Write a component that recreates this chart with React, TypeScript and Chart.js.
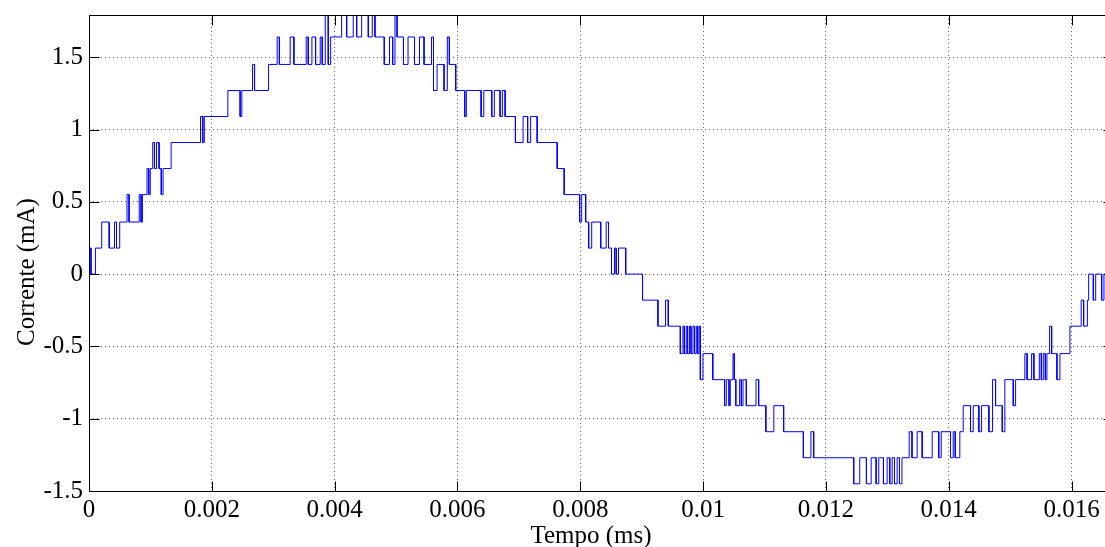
import React, { useEffect, useRef } from "react";
import { Chart, registerables } from "chart.js";

Chart.register(...registerables);

// Instants (s) where the quantised current changes, and the level it takes from then on (mA)
const stepTimes: number[] = [
  0, 0.0000114, 0.0000326, 0.0001043, 0.000207, 0.000329, 0.000416, 0.000448, 0.0005, 0.000619,
  0.000652, 0.000818, 0.000848, 0.00087, 0.000945, 0.000973, 0.000998, 0.001038, 0.001066, 0.001099,
  0.001141, 0.001177, 0.001206, 0.001337, 0.001816, 0.001853, 0.001878, 0.002261, 0.002461, 0.002489,
  0.002663, 0.002696, 0.002924, 0.003064, 0.0031, 0.003276, 0.003337, 0.003537, 0.00357, 0.00363,
  0.00369, 0.003765, 0.003798, 0.003847, 0.003896, 0.003935, 0.004114, 0.004196, 0.004303, 0.004359,
  0.00444, 0.004548, 0.004613, 0.004657, 0.004808, 0.004893, 0.004945, 0.004983, 0.005016, 0.005121,
  0.005195, 0.005301, 0.005382, 0.005456, 0.005578, 0.00561, 0.005668, 0.005782, 0.005835, 0.005868,
  0.005972, 0.006119, 0.006145, 0.006385, 0.006429, 0.006559, 0.006601, 0.006694, 0.006732, 0.006776,
  0.006944, 0.007069, 0.007143, 0.007192, 0.007298, 0.007624, 0.007738, 0.00799, 0.008023, 0.008088,
  0.008137, 0.008186, 0.008333, 0.008422, 0.00846, 0.008509, 0.008557, 0.008585, 0.008623, 0.00874,
  0.009014, 0.009265, 0.009389, 0.009433, 0.009629, 0.009672, 0.009694, 0.009726, 0.009748, 0.00978,
  0.009803, 0.009835, 0.009861, 0.009889, 0.009911, 0.009934, 0.009955, 0.009998, 0.010158, 0.01035,
  0.010378, 0.010422, 0.010443, 0.010487, 0.010508, 0.010533, 0.010595, 0.010623, 0.01065, 0.010704,
  0.010862, 0.010905, 0.011022, 0.011152, 0.011312, 0.011633, 0.011756, 0.011801, 0.012453, 0.012551,
  0.01266, 0.012737, 0.012818, 0.012861, 0.012937, 0.012997, 0.01304, 0.013079, 0.013117, 0.01316,
  0.013198, 0.013239, 0.013356, 0.013402, 0.013486, 0.013568, 0.013731, 0.013838, 0.013878, 0.014029,
  0.014073, 0.014106, 0.014181, 0.014236, 0.014355, 0.014399, 0.014491, 0.014535, 0.014654, 0.014714,
  0.014763, 0.014872, 0.014914, 0.015051, 0.015089, 0.01524, 0.015276, 0.01535, 0.015387, 0.015475,
  0.015508, 0.01554, 0.015573, 0.015599, 0.015643, 0.015676, 0.015762, 0.015811, 0.015974, 0.016157,
  0.016197, 0.016258, 0.016279, 0.016355, 0.016393, 0.016491, 0.016528,
];

const stepCurrents: number[] = [
  0, 0.18, 0, 0.18, 0.36, 0.18, 0.36, 0.18, 0.36, 0.55,
  0.36, 0.55, 0.36, 0.55, 0.73, 0.55, 0.73, 0.91, 0.73, 0.91,
  0.73, 0.55, 0.73, 0.91, 1.09, 0.91, 1.09, 1.27, 1.09, 1.27,
  1.45, 1.27, 1.45, 1.64, 1.45, 1.64, 1.45, 1.64, 1.45, 1.64,
  1.45, 1.64, 1.45, 1.82, 1.45, 1.64, 1.82, 1.64, 1.82, 1.64,
  1.82, 1.64, 1.82, 1.64, 1.45, 1.64, 1.45, 1.82, 1.64, 1.45,
  1.64, 1.45, 1.64, 1.45, 1.64, 1.27, 1.45, 1.27, 1.64, 1.45,
  1.27, 1.09, 1.27, 1.09, 1.27, 1.09, 1.27, 1.09, 1.27, 1.09,
  0.91, 1.09, 0.91, 1.09, 0.91, 0.73, 0.55, 0.36, 0.55, 0.36,
  0.18, 0.36, 0.18, 0.36, 0.18, 0, 0.18, 0, 0.18, 0,
  -0.18, -0.36, -0.18, -0.36, -0.55, -0.36, -0.55, -0.36, -0.55, -0.36,
  -0.55, -0.36, -0.55, -0.36, -0.55, -0.36, -0.73, -0.55, -0.73, -0.91,
  -0.73, -0.91, -0.73, -0.55, -0.73, -0.91, -0.73, -0.91, -0.73, -0.91,
  -0.73, -0.91, -1.09, -0.91, -1.09, -1.27, -1.09, -1.27, -1.45, -1.27,
  -1.45, -1.27, -1.45, -1.27, -1.45, -1.27, -1.45, -1.27, -1.45, -1.27,
  -1.45, -1.27, -1.09, -1.27, -1.09, -1.27, -1.09, -1.27, -1.09, -1.27,
  -1.09, -1.27, -1.09, -0.91, -1.09, -0.91, -1.09, -0.91, -1.09, -0.73,
  -0.91, -1.09, -0.73, -0.91, -0.73, -0.55, -0.73, -0.55, -0.73, -0.55,
  -0.73, -0.55, -0.73, -0.55, -0.36, -0.55, -0.73, -0.55, -0.36, -0.18,
  -0.36, -0.18, 0, -0.18, 0, -0.18, 0,
];

const endTime = 0.016667;
const xTickValues = [0, 0.002, 0.004, 0.006, 0.008, 0.01, 0.012, 0.014, 0.016];
const yTickValues = [-1.5, -1, -0.5, 0, 0.5, 1, 1.5];
const yMin = -1.5;
const yMax = 1.792;
const xAxisTitle = "Tempo (ms)";
const yAxisTitle = "Corrente (mA)";

const CANVAS_W = 1125;
const CANVAS_H = 570;
const FONT = "'Liberation Serif', 'Times New Roman', serif";
const FONT_SIZE = 25;

function buildPoints() {
  const pts: { x: number; y: number }[] = [];
  for (let i = 0; i < stepTimes.length; i++) {
    if (i > 0) pts.push({ x: stepTimes[i], y: stepCurrents[i - 1] });
    pts.push({ x: stepTimes[i], y: stepCurrents[i] });
  }
  pts.push({ x: endTime, y: stepCurrents[stepCurrents.length - 1] });
  return pts;
}

const framePlugin = {
  id: "matlabFrame",
  afterDraw(chart: any) {
    const { ctx, chartArea: a, scales } = chart;
    const L = Math.round(a.left) + 0.5;
    const R = Math.round(a.right) + 0.5;
    const T = Math.round(a.top) + 0.5;
    const B = Math.round(a.bottom) + 0.5;
    ctx.save();
    ctx.strokeStyle = "#000";
    ctx.lineWidth = 1;
    ctx.setLineDash([]);
    ctx.strokeRect(L, T, R - L, B - T);
    ctx.beginPath();
    for (const v of xTickValues) {
      const x = Math.round(scales.x.getPixelForValue(v)) + 0.5;
      ctx.moveTo(x, B);
      ctx.lineTo(x, B - 10);
      ctx.moveTo(x, T);
      ctx.lineTo(x, T + 10);
    }
    for (const v of yTickValues) {
      const y = Math.round(scales.y.getPixelForValue(v)) + 0.5;
      ctx.moveTo(L, y);
      ctx.lineTo(L + 10, y);
      ctx.moveTo(R, y);
      ctx.lineTo(R - 10, y);
    }
    ctx.stroke();

    // axis titles
    ctx.fillStyle = "#000";
    ctx.font = `${FONT_SIZE}px ${FONT}`;
    ctx.textAlign = "center";
    ctx.textBaseline = "middle";
    ctx.fillText(xAxisTitle, 591, 536);
    ctx.translate(27, 272);
    ctx.rotate(-Math.PI / 2);
    ctx.fillText(yAxisTitle, 0, 0);
    ctx.restore();
  },
};

const noScalePadding = (s: any) => {
  s.paddingTop = 0;
  s.paddingBottom = 0;
  s.paddingLeft = 0;
  s.paddingRight = 0;
};

export default function App() {
  const canvasRef = useRef<HTMLCanvasElement | null>(null);

  useEffect(() => {
    const canvas = canvasRef.current;
    if (!canvas) return;
    const gridColor = "rgba(0,0,0,0.55)";
    const chart = new Chart(canvas, {
      type: "line",
      data: {
        datasets: [
          {
            data: buildPoints(),
            borderColor: "rgb(0,0,255)",
            borderWidth: 1,
            pointRadius: 0,
            tension: 0,
            fill: false,
          },
        ],
      },
      options: {
        responsive: false,
        maintainAspectRatio: false,
        animation: false,
        events: [],
        parsing: false,
        normalized: true,
        layout: { padding: { top: 15, right: 12.5, bottom: 0, left: 0 } },
        plugins: {
          legend: { display: false },
          tooltip: { enabled: false },
          title: { display: false },
        },
        scales: {
          x: {
            type: "linear",
            min: 0,
            max: endTime,
            afterBuildTicks: (s: any) => {
              s.ticks = xTickValues.map((value) => ({ value }));
            },
            afterFit: (s: any) => {
              s.height = CANVAS_H - 491;
              noScalePadding(s);
            },
            ticks: {
              color: "#000",
              font: { family: FONT, size: FONT_SIZE },
              padding: 4,
              maxRotation: 0,
              autoSkip: false,
              callback: (v: any) => String(v),
            },
            grid: { color: gridColor, drawTicks: false, lineWidth: 1 },
            border: { display: false, dash: [1, 3] },
            title: { display: false, text: xAxisTitle },
          },
          y: {
            type: "linear",
            min: yMin,
            max: yMax,
            afterBuildTicks: (s: any) => {
              s.ticks = yTickValues.map((value) => ({ value }));
            },
            afterFit: (s: any) => {
              s.width = 89;
              noScalePadding(s);
            },
            ticks: {
              color: "#000",
              font: { family: FONT, size: FONT_SIZE },
              padding: 6,
              autoSkip: false,
              callback: (v: any) => String(v),
            },
            grid: { color: gridColor, drawTicks: false, lineWidth: 1 },
            border: { display: false, dash: [1, 3] },
            title: { display: false, text: yAxisTitle },
          },
        },
      },
      plugins: [framePlugin],
    } as any);
    return () => chart.destroy();
  }, []);

  return (
    <div
      style={{
        position: "absolute",
        left: 0,
        top: 0,
        width: 1105,
        height: 547,
        overflow: "hidden",
        background: "#fff",
      }}
    >
      <canvas
        ref={canvasRef}
        width={CANVAS_W}
        height={CANVAS_H}
        style={{ display: "block", width: CANVAS_W, height: CANVAS_H }}
      />
    </div>
  );
}
